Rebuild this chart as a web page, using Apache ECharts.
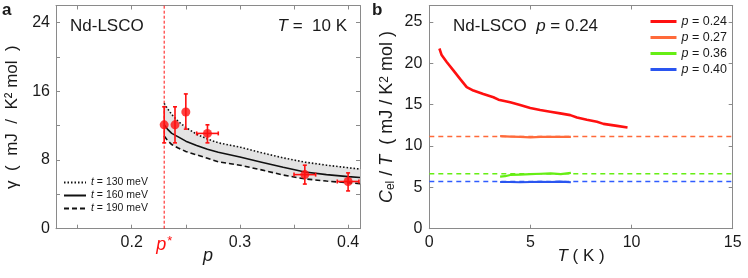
<!DOCTYPE html>
<html>
<head>
<meta charset="utf-8">
<script src="https://cdn.jsdelivr.net/npm/echarts@6/dist/echarts.min.js"></script>
<style>
html,body{margin:0;padding:0;background:#fff;}
#c{width:748px;height:278px;}
</style>
</head>
<body>
<div id="c"></div>
<script>
// ---------- Panel a data ----------
const pCurve    = [0.23, 0.233, 0.237, 0.243, 0.25, 0.26, 0.27, 0.28, 0.30, 0.32, 0.34, 0.36, 0.38, 0.40, 0.411];
const gammaT130 = [14.6, 14.0, 13.3, 12.5, 11.8, 11.0, 10.45, 10.0, 9.5, 8.85, 8.25, 7.75, 7.4, 7.1, 6.95];
const gammaT160 = [12.1, 11.6, 11.1, 10.7, 10.2, 9.7, 9.25, 8.9, 8.35, 7.75, 7.15, 6.6, 6.3, 6.07, 5.97];
const gammaT190 = [10.8, 10.3, 9.8, 9.4, 9.0, 8.6, 8.2, 7.8, 7.4, 6.85, 6.25, 5.8, 5.55, 5.35, 5.25];

const pMeas     = [0.23, 0.24, 0.25, 0.27, 0.36, 0.40];
const gammaMeas = [12.1, 12.1, 13.6, 11.1, 6.3, 5.5];
const gammaLow  = [10.0, 10.0, 11.6, 10.0, 5.2, 4.4];
const gammaHigh = [14.2, 14.2, 15.7, 12.1, 7.4, 6.5];
const pLow      = [null, null, null, 0.26, 0.35, 0.39];
const pHigh     = [null, null, null, 0.28, 0.37, 0.41];

const pStar = 0.23;
const xTicksA = [0.2, 0.3, 0.4];
const xMinorA = [0.15, 0.2, 0.25, 0.3, 0.35, 0.4];
const yTicksA = [0, 8, 16, 24];
const yMinorA = [0, 4, 8, 12, 16, 20, 24];

// ---------- Panel b data ----------
const T024   = [0.5, 0.61, 0.86, 1.19, 1.52, 1.85, 2.18, 2.67, 3.17, 3.42, 4.0, 4.49, 4.99, 5.48, 5.98, 6.47, 6.97, 7.3, 7.79, 8.29, 8.61, 9.28, 9.8];
const C024   = [21.8, 21.0, 20.17, 19.15, 18.13, 17.12, 16.71, 16.3, 15.9, 15.61, 15.29, 14.96, 14.6, 14.35, 14.15, 13.95, 13.74, 13.46, 13.17, 12.93, 12.68, 12.44, 12.24];
const T027   = [3.5, 4.0, 4.5, 5.0, 5.5, 6.0, 6.5, 7.0];
const C027   = [11.2, 11.15, 11.1, 11.05, 11.1, 11.12, 11.1, 11.1];
const T036   = [3.5, 3.75, 4.0, 4.5, 5.0, 5.5, 6.0, 6.5, 7.0];
const C036   = [6.3, 6.35, 6.5, 6.55, 6.6, 6.65, 6.7, 6.6, 6.75];
const T040   = [3.5, 4.0, 4.5, 5.0, 5.5, 6.0, 6.5, 7.0];
const C040   = [5.65, 5.65, 5.62, 5.65, 5.68, 5.65, 5.7, 5.62];
const gamma027 = 11.15, gamma036 = 6.65, gamma040 = 5.7;
const TRange = [0, 15];
const xTicksB = [0, 5, 10, 15];
const yTicksB = [0, 5, 10, 15, 20, 25];

// ---------- helpers ----------
const FONT = "'Liberation Sans', Arial, sans-serif";
const FRAME = '#8a8a8a';
const TXT = '#1a1a1a';
const zip = (a, b) => a.map((v, i) => [v, b[i]]);
const RED = '#ff1010', ORANGE = '#ff6a3a', GREEN = '#66ee14', BLUE = '#2a55f0';

const chart = echarts.init(document.getElementById('c'), null, {renderer: 'canvas'});

function frameAxis(extra) {
  return Object.assign({
    axisLine: {show: true, onZero: false, lineStyle: {color: FRAME, width: 1}},
    axisTick: {show: true, inside: true, length: 4, lineStyle: {color: FRAME}},
    splitLine: {show: false},
    axisLabel: {show: false},
    nameMoveOverlap: false
  }, extra);
}

const errData = pMeas.map((p, i) => [p, gammaMeas[i], gammaLow[i], gammaHigh[i],
  pLow[i] == null ? NaN : pLow[i], pHigh[i] == null ? NaN : pHigh[i]]);

// band segments: [p0, lo0, hi0, p1, lo1, hi1]
const bandData = pCurve.slice(0, -1).map((p, i) =>
  [p, gammaT190[i], gammaT130[i], pCurve[i + 1], gammaT190[i + 1], gammaT130[i + 1]]);

const legendTxt = (fs) => ({fontSize: fs, color: TXT, fontFamily: FONT,
  rich: {i: {fontStyle: 'italic', fontSize: fs, color: TXT, fontFamily: FONT}}});

const option = {
  animation: false,
  textStyle: {fontFamily: FONT},
  title: [
    {text: 'a', left: 2, top: 2, padding: 0, textStyle: {fontSize: 17, fontWeight: 'bold', color: TXT, fontFamily: FONT}},
    {text: 'b', left: 372, top: 2, padding: 0, textStyle: {fontSize: 17, fontWeight: 'bold', color: TXT, fontFamily: FONT}},
    {text: 'Nd-LSCO', left: 70, top: 18, padding: 0, textStyle: {fontSize: 17, fontWeight: 'normal', color: TXT, fontFamily: FONT}},
    {text: '{i|T} =  10 K', right: 401, top: 18, padding: 0,
     textStyle: {fontSize: 17, fontWeight: 'normal', color: TXT, fontFamily: FONT,
       rich: {i: {fontStyle: 'italic', fontSize: 17, color: TXT, fontFamily: FONT}}}},
    {text: 'Nd-LSCO  {i|p} = 0.24', left: 453, top: 18, padding: 0,
     textStyle: {fontSize: 17, fontWeight: 'normal', color: TXT, fontFamily: FONT,
       rich: {i: {fontStyle: 'italic', fontSize: 17, color: TXT, fontFamily: FONT}}}}
  ],
  legend: [
    {
      data: ['t = 130 meV', 't = 160 meV', 't = 190 meV'],
      orient: 'vertical', left: 63, top: 177, itemWidth: 22, itemHeight: 13, itemGap: 2,
      padding: 0, itemStyle: {opacity: 0},
      textStyle: legendTxt(10.5),
      formatter: n => '{i|t}' + n.slice(1)
    },
    {
      data: ['p = 0.24', 'p = 0.27', 'p = 0.36', 'p = 0.40'],
      orient: 'vertical', left: 649, top: 15, itemWidth: 26, itemHeight: 14, itemGap: 3,
      padding: 0, lineStyle: {width: 3}, itemStyle: {opacity: 0},
      textStyle: legendTxt(12.5),
      formatter: n => '{i|p}' + n.slice(1)
    }
  ],
  grid: [
    {left: 56, top: 5.5, right: 388, bottom: 49.3},
    {left: 429.3, top: 5.5, right: 15.3, bottom: 49.3}
  ],
  xAxis: [
    frameAxis({
      type: 'value', gridIndex: 0, min: 0.13, max: 0.411, position: 'bottom',
      axisTick: {show: true, inside: true, length: 4, lineStyle: {color: FRAME}, customValues: xMinorA},
      axisLabel: {show: true, customValues: xTicksA.concat([pStar]), margin: 6, fontSize: 16, color: TXT, fontFamily: FONT,
        formatter: v => Math.abs(v - pStar) < 1e-9 ? '{ps|p}{st|*}' : String(v),
        rich: {ps: {fontStyle: 'italic', fontSize: 18, color: RED, fontFamily: FONT},
               st: {fontSize: 13, color: RED, fontFamily: FONT, verticalAlign: 'top', padding: [0, 0, 8, 1]}}},
      name: 'p', nameLocation: 'middle', nameGap: 18,
      nameTextStyle: {fontSize: 18, fontStyle: 'italic', color: TXT, fontFamily: FONT}
    }),
    frameAxis({type: 'value', gridIndex: 0, min: 0.13, max: 0.411, position: 'top',
      axisTick: {show: true, inside: true, length: 4, lineStyle: {color: FRAME}, customValues: xMinorA}}),
    frameAxis({
      type: 'value', gridIndex: 1, min: TRange[0], max: TRange[1], interval: 5, position: 'bottom',
      axisLabel: {show: true, customValues: xTicksB, margin: 6, fontSize: 16, color: TXT, fontFamily: FONT},
      name: '{i|T} ( K )', nameLocation: 'middle', nameGap: 19,
      nameTextStyle: {fontSize: 17, color: TXT, fontFamily: FONT,
        rich: {i: {fontStyle: 'italic', fontSize: 17, color: TXT, fontFamily: FONT}}}
    }),
    frameAxis({type: 'value', gridIndex: 1, min: TRange[0], max: TRange[1], interval: 5, position: 'top'})
  ],
  yAxis: [
    frameAxis({
      type: 'value', gridIndex: 0, min: 0, max: 26, interval: 4, position: 'left',
      axisTick: {show: true, inside: true, length: 4, lineStyle: {color: FRAME}, customValues: yMinorA},
      axisLabel: {show: true, customValues: yTicksA, margin: 6, fontSize: 16, color: TXT, fontFamily: FONT},
      name: 'γ  (  mJ  /  K² mol  )', nameLocation: 'middle', nameGap: 35,
      nameTextStyle: {fontSize: 17, color: TXT, fontFamily: FONT}
    }),
    frameAxis({type: 'value', gridIndex: 0, min: 0, max: 26, interval: 4, position: 'right',
      axisTick: {show: true, inside: true, length: 4, lineStyle: {color: FRAME}, customValues: yMinorA}}),
    frameAxis({
      type: 'value', gridIndex: 1, min: 0, max: 27, interval: 5, position: 'left',
      axisTick: {show: true, inside: true, length: 4, lineStyle: {color: FRAME}, customValues: yTicksB},
      axisLabel: {show: true, customValues: yTicksB, margin: 7, fontSize: 16, color: TXT, fontFamily: FONT},
      name: '{i|C}{sub|el} / {i|T}  ( mJ / K{sup|2} mol )', nameLocation: 'middle', nameGap: 33,
      nameTextStyle: {fontSize: 18, color: TXT, fontFamily: FONT,
        rich: {i: {fontStyle: 'italic', fontSize: 18, color: TXT, fontFamily: FONT},
               sub: {fontSize: 12, color: TXT, fontFamily: FONT, verticalAlign: 'bottom', padding: [6, 0, 0, 0]},
               sup: {fontSize: 12, color: TXT, fontFamily: FONT, verticalAlign: 'top', padding: [0, 0, 6, 0]}}}
    }),
    frameAxis({type: 'value', gridIndex: 1, min: 0, max: 27, interval: 5, position: 'right',
      axisTick: {show: true, inside: true, length: 4, lineStyle: {color: FRAME}, customValues: yTicksB}})
  ],
  series: [
    // grey band between t=190 and t=130
    {type: 'custom', xAxisIndex: 0, yAxisIndex: 0, z: 1, silent: true,
     encode: {x: [0, 3], y: [1, 2, 4, 5]},
     data: bandData,
     renderItem: function (params, api) {
       const a = api.coord([api.value(0), api.value(1)]);
       const b = api.coord([api.value(0), api.value(2)]);
       const c = api.coord([api.value(3), api.value(5)]);
       const d = api.coord([api.value(3), api.value(4)]);
       return {type: 'polygon', shape: {points: [a, b, c, d]},
               style: {fill: '#e3e3e3', stroke: '#e3e3e3', lineWidth: 0.8}};
     }},
    {name: 't = 130 meV', type: 'line', xAxisIndex: 0, yAxisIndex: 0, symbol: 'none',
     data: zip(pCurve, gammaT130), lineStyle: {color: '#111', width: 1.6, type: [1.5, 2]}, itemStyle: {color: '#111'}, z: 3},
    {name: 't = 160 meV', type: 'line', xAxisIndex: 0, yAxisIndex: 0, symbol: 'none',
     data: zip(pCurve, gammaT160), lineStyle: {color: '#111', width: 1.6, type: 'solid'}, itemStyle: {color: '#111'}, z: 3},
    {name: 't = 190 meV', type: 'line', xAxisIndex: 0, yAxisIndex: 0, symbol: 'none',
     data: zip(pCurve, gammaT190), lineStyle: {color: '#111', width: 1.6, type: [5, 3]}, itemStyle: {color: '#111'}, z: 3},
    // p* line
    {type: 'line', xAxisIndex: 0, yAxisIndex: 0, symbol: 'none', silent: true,
     data: [[pStar, 0], [pStar, 26]], lineStyle: {color: RED, width: 1, type: [3, 2]}, z: 2},
    // error bars
    {type: 'custom', xAxisIndex: 0, yAxisIndex: 0, z: 5, silent: true,
     encode: {x: [0, 4, 5], y: [1, 2, 3]},
     data: errData,
     renderItem: function (params, api) {
       const x = api.value(0), y = api.value(1);
       const lo = api.coord([x, api.value(2)]), hi = api.coord([x, api.value(3)]);
       const st = {stroke: RED, lineWidth: 1.6};
       const ch = [
         {type: 'line', shape: {x1: lo[0], y1: lo[1], x2: hi[0], y2: hi[1]}, style: st},
         {type: 'line', shape: {x1: lo[0] - 2, y1: lo[1], x2: lo[0] + 2, y2: lo[1]}, style: st},
         {type: 'line', shape: {x1: hi[0] - 2, y1: hi[1], x2: hi[0] + 2, y2: hi[1]}, style: st}
       ];
       const xl = api.value(4), xh = api.value(5);
       if (isFinite(xl) && isFinite(xh)) {
         const a = api.coord([xl, y]), b = api.coord([xh, y]);
         ch.push({type: 'line', shape: {x1: a[0], y1: a[1], x2: b[0], y2: b[1]}, style: st});
         ch.push({type: 'line', shape: {x1: a[0], y1: a[1] - 2, x2: a[0], y2: a[1] + 2}, style: st});
         ch.push({type: 'line', shape: {x1: b[0], y1: b[1] - 2, x2: b[0], y2: b[1] + 2}, style: st});
       }
       return {type: 'group', children: ch};
     }},
    {type: 'scatter', xAxisIndex: 0, yAxisIndex: 0, z: 6, symbol: 'circle', symbolSize: 9,
     data: zip(pMeas, gammaMeas), itemStyle: {color: RED}},

    // ---------- Panel b ----------
    {type: 'line', xAxisIndex: 2, yAxisIndex: 2, symbol: 'none', silent: true,
     data: zip(TRange, [gamma027, gamma027]), lineStyle: {color: ORANGE, width: 1.5, type: [5, 4]}, z: 2},
    {type: 'line', xAxisIndex: 2, yAxisIndex: 2, symbol: 'none', silent: true,
     data: zip(TRange, [gamma036, gamma036]), lineStyle: {color: GREEN, width: 1.5, type: [5, 4]}, z: 2},
    {type: 'line', xAxisIndex: 2, yAxisIndex: 2, symbol: 'none', silent: true,
     data: zip(TRange, [gamma040, gamma040]), lineStyle: {color: '#2f5cff', width: 1.5, type: [5, 4]}, z: 2},
    {name: 'p = 0.24', type: 'line', xAxisIndex: 2, yAxisIndex: 2, symbol: 'none',
     data: zip(T024, C024), lineStyle: {color: RED, width: 2.6}, itemStyle: {color: RED}, z: 3},
    {name: 'p = 0.27', type: 'line', xAxisIndex: 2, yAxisIndex: 2, symbol: 'none',
     data: zip(T027, C027), lineStyle: {color: ORANGE, width: 2.2}, itemStyle: {color: ORANGE}, z: 3},
    {name: 'p = 0.36', type: 'line', xAxisIndex: 2, yAxisIndex: 2, symbol: 'none',
     data: zip(T036, C036), lineStyle: {color: GREEN, width: 2.2}, itemStyle: {color: GREEN}, z: 3},
    {name: 'p = 0.40', type: 'line', xAxisIndex: 2, yAxisIndex: 2, symbol: 'none',
     data: zip(T040, C040), lineStyle: {color: BLUE, width: 2.2}, itemStyle: {color: BLUE}, z: 3}
  ]
};
chart.setOption(option);
</script>
</body>
</html>
